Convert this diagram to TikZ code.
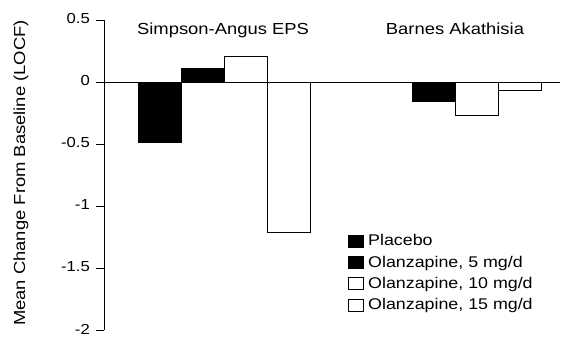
\documentclass[tikz,border=0pt]{standalone}
\usepackage{fontspec}
\setmainfont{Liberation Sans}[FakeStretch=1.15]
\usepackage{tikz}

\tikzset{
  valbar/.style={draw=black, line width=0.7pt},
  keybox/.style={draw=black, line width=0.7pt, minimum width=15pt, minimum height=12pt, inner sep=0pt},
  ticklab/.style={anchor=east, inner sep=0pt, yshift=1pt, font=\fontsize{14.5}{17}\selectfont},
  headlab/.style={anchor=base, inner sep=0pt, font=\fontsize{16}{19}\selectfont},
  keylab/.style={anchor=base west, inner sep=0pt, yshift=-5pt, font=\fontsize{15.5}{18}\selectfont},
}

\begin{document}
\begin{tikzpicture}[x=1pt,y=124pt]
\useasboundingbox (0,-2.0565) rectangle (564,0.6613);

% Draw bars
\foreach \x/\v/\c in {138/-0.49/black, 181/0.11/black, 224/0.21/white, 267/-1.21/white,
                      412/-0.16/black, 455/-0.27/white, 498/-0.07/white} {
    \draw[valbar, fill=\c] (\x,0) rectangle ++(43,\v);
}

% Draw axis, zero line and ticks
\coordinate (top) at (104,0.5);
\coordinate (bot) at (104,-2);
\coordinate (zero) at (104,0);
\coordinate (zend) at (560,0);
\draw[line width=0.7pt] (top) -- (bot);
\draw[line width=0.7pt] (zero) -- (zend);
\foreach \v [count=\i] in {0.5,0,-0.5,-1,-1.5,-2} {
    \draw[line width=0.7pt] (96,\v) -- (104,\v);
    \node[ticklab] (tick\i) at (90,\v) {\v};
}

% Axis label and group titles
\node[rotate=90, inner sep=0pt, font=\fontsize{16}{19}\selectfont] (ylab) at (21,-0.734) {Mean Change From Baseline (LOCF)};
\node[headlab] (sas) at (223,0.383) {Simpson-Angus EPS};
\node[headlab] (bas) at (455,0.383) {Barnes Akathisia};

% Draw legend
\foreach \y/\c/\t [count=\i] in {-1.282/black/{Placebo}, -1.452/black/{Olanzapine, 5 mg/d},
                                 -1.621/white/{Olanzapine, 10 mg/d}, -1.798/white/{Olanzapine, 15 mg/d}} {
    \node[keybox, fill=\c] (key\i) at (356,\y) {};
    \node[keylab] (keylab\i) at (368,\y) {\t};
}
\end{tikzpicture}
\end{document}
